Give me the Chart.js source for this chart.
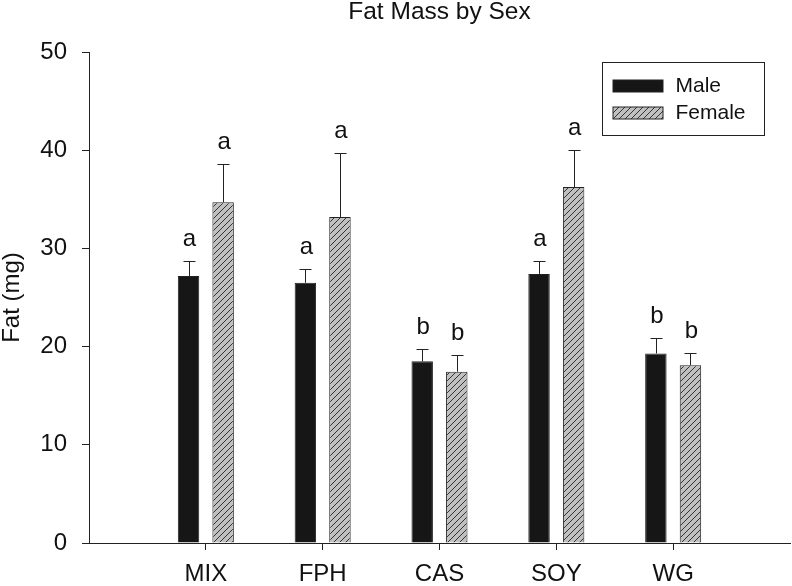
<!DOCTYPE html>
<html>
<head>
<meta charset="utf-8">
<title>Fat Mass by Sex</title>
<script src="https://cdn.jsdelivr.net/npm/chart.js@4/dist/chart.umd.min.js"></script>
<style>
  html, body { margin: 0; padding: 0; background: #ffffff; }
  #wrap { width: 792px; height: 586px; }
</style>
</head>
<body>
<div id="wrap"><canvas id="bar-chart" width="792" height="586"></canvas></div>
<script>

// values
var categories = ["MIX", "FPH", "CAS", "SOY", "WG"];
var maleMean = [27.2, 26.5, 18.5, 27.4, 19.3];
var maleErr = [1.55, 1.4, 1.3, 1.35, 1.6];
var femaleMean = [34.7, 33.2, 17.45, 36.25, 18.1];
var femaleErr = [3.9, 6.5, 1.7, 3.75, 1.2];
var maleLetters = ["a", "a", "b", "a", "b"];
var femaleLetters = ["a", "a", "b", "a", "b"];
var yTicks = [0, 10, 20, 30, 40, 50];

var FONT = "Arial, 'Liberation Sans', sans-serif";
var INK = "#222222";

// empty slot each side, like the original plot
var xLabels = [""].concat(categories, [""]);

function padded(arr) {
    return [null].concat(arr, [null]);
}

function hatchPattern() {
    var c = document.createElement("canvas");
    c.width = 6;
    c.height = 6;
    var g = c.getContext("2d");
    g.fillStyle = "#c0c0c0";
    g.fillRect(0, 0, 6, 6);
    g.strokeStyle = "#333333";
    g.lineWidth = 1;
    g.beginPath();
    g.moveTo(-1, 7); g.lineTo(7, -1);
    g.moveTo(-4, 4); g.lineTo(4, -4);
    g.moveTo(2, 10); g.lineTo(10, 2);
    g.stroke();
    return g.createPattern(c, "repeat");
}

var femaleFill = hatchPattern();

var errSets = [
    { err: padded(maleErr), letters: padded(maleLetters) },
    { err: padded(femaleErr), letters: padded(femaleLetters) }
];

// error bars (upper only) plus the significance letters
var errorBars = {
    id: "errorBars",
    afterDatasetsDraw: function(chart) {
        var ctx = chart.ctx;
        var yScale = chart.scales.y;
        ctx.save();
        ctx.strokeStyle = INK;
        ctx.lineWidth = 1;
        ctx.fillStyle = "#111111";
        ctx.font = "24px " + FONT;
        ctx.textAlign = "center";
        ctx.textBaseline = "alphabetic";
        for (var i = 0; i < chart.data.datasets.length; i++) {
            var ds = chart.data.datasets[i];
            var meta = chart.getDatasetMeta(i);
            for (var j = 0; j < ds.data.length; j++) {
                if (ds.data[j] == null) continue;
                var bar = meta.data[j];
                var x = Math.round(bar.x) + 0.5;
                var top = Math.round(yScale.getPixelForValue(ds.data[j] + errSets[i].err[j])) + 0.5;
                ctx.beginPath();
                ctx.moveTo(x, bar.y);
                ctx.lineTo(x, top);
                ctx.moveTo(x - 6, top);
                ctx.lineTo(x + 6, top);
                ctx.stroke();
                ctx.fillText(errSets[i].letters[j], bar.x + 1, top - 16);
            }
        }
        ctx.restore();
    }
};

// boxed legend in the upper right of the plot
var boxLegend = {
    id: "boxLegend",
    afterDraw: function(chart) {
        var ctx = chart.ctx;
        var area = chart.chartArea;
        var bx = area.right - 187.5, by = area.top + 10.5, bw = 162, bh = 73;
        ctx.save();
        ctx.strokeStyle = INK;
        ctx.lineWidth = 1;
        ctx.strokeRect(bx, by, bw, bh);
        ctx.font = "21px " + FONT;
        ctx.textBaseline = "middle";
        ctx.textAlign = "left";
        for (var i = 0; i < chart.data.datasets.length; i++) {
            var ds = chart.data.datasets[i];
            var sy = by + 17.5 + i * 27;
            ctx.fillStyle = ds.backgroundColor;
            ctx.fillRect(bx + 10.5, sy, 50, 12);
            ctx.strokeStyle = INK;
            ctx.strokeRect(bx + 10.5, sy, 50, 12);
            ctx.fillStyle = "#111111";
            ctx.fillText(ds.label, bx + 73, sy + 6);
        }
        ctx.restore();
    }
};

new Chart(document.getElementById("bar-chart"), {
    type: "bar",
    data: {
        labels: xLabels,
        datasets: [
            {
                label: "Male",
                data: padded(maleMean),
                backgroundColor: "#161616",
                borderColor: INK,
                borderWidth: 1,
                categoryPercentage: 0.592,
                barPercentage: 0.62
            },
            {
                label: "Female",
                data: padded(femaleMean),
                backgroundColor: femaleFill,
                borderColor: INK,
                borderWidth: 1,
                categoryPercentage: 0.592,
                barPercentage: 0.62
            }
        ]
    },
    options: {
        responsive: false,
        animation: false,
        devicePixelRatio: 1,
        layout: { padding: { left: 0, right: 2, top: 0, bottom: 0 } },
        plugins: {
            legend: { display: false },
            tooltip: { enabled: false },
            title: {
                display: true,
                text: "Fat Mass by Sex",
                fullSize: false,
                color: "#111111",
                font: { family: FONT, size: 24.5, weight: "normal", lineHeight: 1 },
                padding: { top: 0, bottom: 27.5 }
            }
        },
        scales: {
            x: {
                type: "category",
                offset: false,
                grid: {
                    offset: false,
                    drawOnChartArea: false,
                    tickLength: 7,
                    tickColor: function(c) {
                        return (c.index === 0 || c.index === xLabels.length - 1) ? "rgba(0,0,0,0)" : INK;
                    }
                },
                border: { color: INK, width: 1 },
                ticks: {
                    color: "#111111",
                    padding: 10,
                    maxRotation: 0,
                    autoSkip: false,
                    font: { family: FONT, size: 24 }
                },
                afterFit: function(s) {
                    s.height = 43;
                    // tick padding would otherwise leak into the right edge
                    s.paddingLeft = 0;
                    s.paddingRight = 0;
                }
            },
            y: {
                min: 0,
                max: 50,
                afterBuildTicks: function(s) {
                    s.ticks = yTicks.map(function(v) { return { value: v }; });
                },
                grid: {
                    drawOnChartArea: false,
                    tickLength: 7,
                    tickColor: INK
                },
                border: { color: INK, width: 1 },
                ticks: {
                    color: "#111111",
                    padding: 15,
                    font: { family: FONT, size: 24 }
                },
                title: {
                    display: true,
                    text: "Fat (mg)",
                    color: "#111111",
                    font: { family: FONT, size: 24, lineHeight: 1 },
                    padding: 0
                },
                afterFit: function(s) { s.width = 89; }
            }
        }
    },
    plugins: [errorBars, boxLegend]
});
</script>
</body>
</html>
